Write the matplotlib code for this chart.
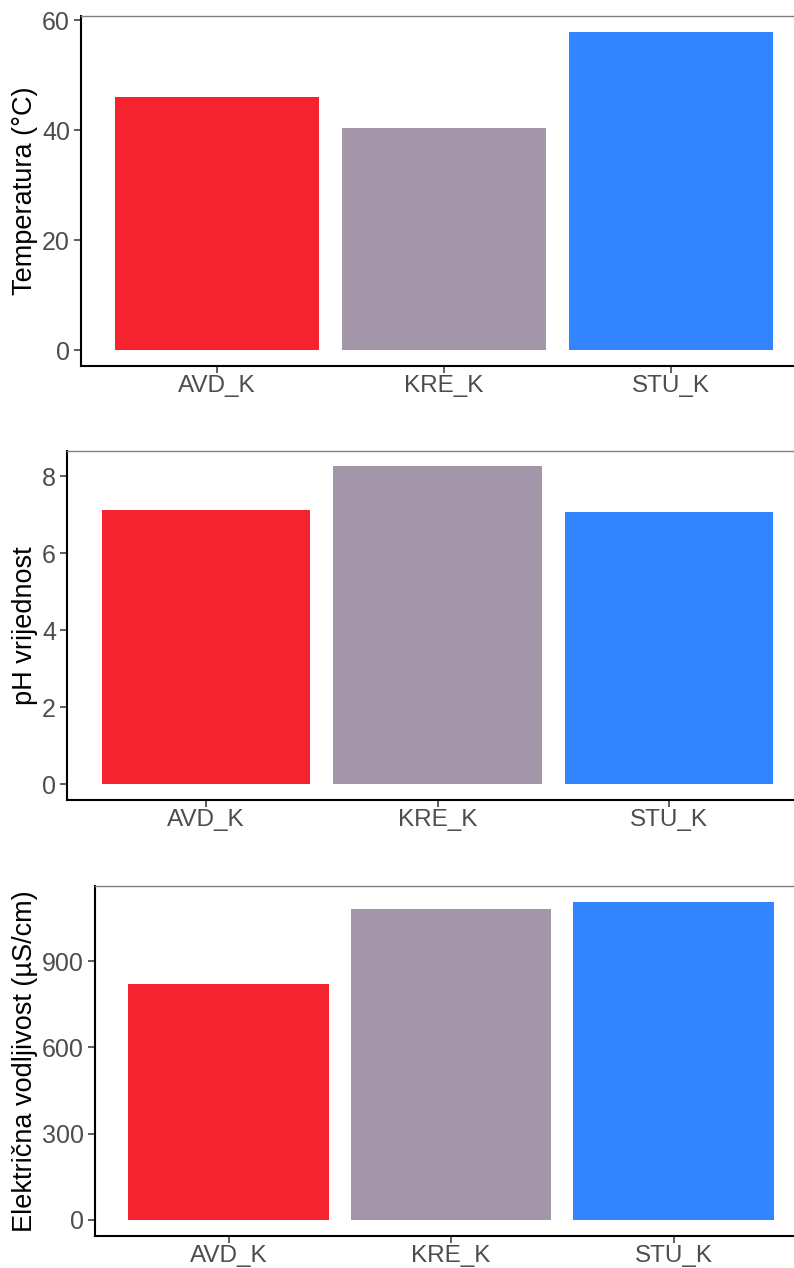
import matplotlib
matplotlib.use("Agg")
import matplotlib.pyplot as plt

plt.rcParams['font.family'] = ['Liberation Sans', 'DejaVu Sans']

sites = ['AVD_K', 'KRE_K', 'STU_K']
bar_colors = ['#F5222F', '#A396A8', '#3385FF']

temperatura = [46.0, 40.5, 57.9]
ph = [7.12, 8.26, 7.07]
vodljivost = [819, 1083, 1107]

W, H = 794, 1268

# (values, ylabel, yticks, [left, right, top, bottom] in pixels)
panels = [
    (temperatura, 'Temperatura (°C)', [0, 20, 40, 60], [81, 807, 16, 366]),
    (ph, 'pH vrijednost', [0, 2, 4, 6, 8], [67, 808, 450.5, 800]),
    (vodljivost, 'Električna vodljivost (µS/cm)', [0, 300, 600, 900], [95, 807, 885.7, 1235.7]),
]

fig = plt.figure(figsize=(W / 100, H / 100), dpi=100)

for vals, label, yticks, (l, r, t, b) in panels:
    ax = fig.add_axes([l / W, (H - b) / H, (r - l) / W, (b - t) / H])
    x = range(len(sites))
    ax.bar(x, vals, width=0.9, color=bar_colors)
    ymax = max(vals)
    ax.set_ylim(-0.05 * ymax, 1.05 * ymax)
    ax.set_xlim(-0.6, len(sites) - 0.4)
    ax.set_xticks(list(x))
    ax.set_xticklabels(sites)
    ax.set_yticks(yticks)
    ax.tick_params(axis='y', labelsize=18, labelcolor='#4D4D4D', color='#333333',
                   length=5, width=1.1, pad=3)
    ax.tick_params(axis='x', labelsize=17.5, labelcolor='#4D4D4D', color='#333333',
                   length=5, width=1.1, pad=1.5)
    for side in ['left', 'bottom']:
        ax.spines[side].set_color('black')
        ax.spines[side].set_linewidth(1.5)
    for side in ['top', 'right']:
        ax.spines[side].set_color('#808080')
        ax.spines[side].set_linewidth(1.0)
    fig.text(25 / W, (H - (t + b) / 2) / H, label, rotation=90, ha='center', va='center',
             fontsize=19.5, color='black')

fig.savefig('out.png', dpi=100)
